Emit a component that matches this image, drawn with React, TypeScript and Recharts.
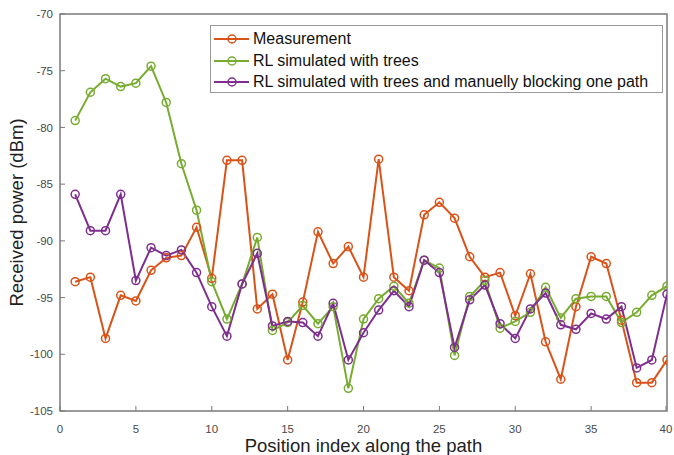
import React from 'react';
import { LineChart, Line, XAxis, YAxis, Legend, ReferenceArea } from 'recharts';

const positions = [1,2,3,4,5,6,7,8,9,10,11,12,13,14,15,16,17,18,19,20,21,22,23,24,25,26,27,28,29,30,31,32,33,34,35,36,37,38,39,40];
const measurement = [-93.6,-93.2,-98.6,-94.8,-95.3,-92.6,-91.5,-91.3,-88.8,-93.3,-82.9,-82.9,-96.0,-94.7,-100.5,-95.4,-89.2,-92.0,-90.5,-93.2,-82.8,-93.2,-94.4,-87.7,-86.6,-88.0,-91.4,-93.2,-92.8,-96.6,-92.9,-98.9,-102.2,-95.8,-91.4,-92.0,-97.0,-102.5,-102.5,-100.5];
const rlTrees = [-79.4,-76.9,-75.7,-76.4,-76.1,-74.6,-77.8,-83.2,-87.3,-93.6,-96.9,-93.8,-89.7,-97.9,-97.2,-95.7,-97.3,-95.8,-103.0,-96.9,-95.1,-94.0,-95.5,-91.7,-92.4,-100.1,-94.9,-93.5,-97.7,-97.1,-96.3,-94.1,-96.8,-95.1,-94.9,-94.9,-97.2,-96.3,-94.8,-94.0];
const rlBlocked = [-85.9,-89.1,-89.1,-85.9,-93.5,-90.6,-91.3,-90.8,-92.8,-95.8,-98.4,-93.8,-91.1,-97.5,-97.1,-97.2,-98.4,-95.5,-100.5,-98.1,-96.1,-94.4,-95.8,-91.7,-92.8,-99.4,-95.2,-93.9,-97.3,-98.6,-96.0,-94.6,-97.4,-97.8,-96.4,-96.9,-95.8,-101.2,-100.5,-94.7];
const xTicks = [0,5,10,15,20,25,30,35,40];
const yTicks = [-105,-100,-95,-90,-85,-80,-75,-70];
const seriesNames = ['Measurement', 'RL simulated with trees', 'RL simulated with trees and manuelly blocking one path'];
const seriesColors = ['#D95319', '#77AC30', '#7E2F8E'];

const data = positions.map((p, i) => ({ x: p, m: measurement[i], t: rlTrees[i], b: rlBlocked[i] }));

const FONT = '"Liberation Sans", Arial, Helvetica, sans-serif';
const AXIS = '#7a7a7a';
const TXT = '#4a4a4a';
const TICK_LEN = 5;

const BottomTick = (p: any) => (
  <g>
    <line x1={p.x} y1={p.y - 14} x2={p.x} y2={p.y - 14 - TICK_LEN} stroke={AXIS} strokeWidth={1} />
    <text x={p.x} y={p.y} dy="0.71em" textAnchor="middle" fill={TXT} fontSize={11.5} fontFamily={FONT}>{p.payload.value}</text>
  </g>
);
const TopTick = (p: any) => (
  <line x1={p.x} y1={p.y} x2={p.x} y2={p.y + TICK_LEN} stroke={AXIS} strokeWidth={1} />
);
const LeftTick = (p: any) => (
  <g>
    <line x1={p.x + 7} y1={p.y} x2={p.x + 7 + TICK_LEN} y2={p.y} stroke={AXIS} strokeWidth={1} />
    <text x={p.x} y={p.y} dy="0.355em" textAnchor="end" fill={TXT} fontSize={11.5} fontFamily={FONT}>{p.payload.value}</text>
  </g>
);
const RightTick = (p: any) => (
  <line x1={p.x} y1={p.y} x2={p.x - TICK_LEN} y2={p.y} stroke={AXIS} strokeWidth={1} />
);

const LegendBox = () => (
  <div style={{ position: 'absolute', left: 210, top: 25, width: 453, height: 68, border: '1.5px solid #9a9a9a', background: '#fff', boxSizing: 'border-box', fontFamily: FONT, fontSize: 16, color: '#111' }}>
    {seriesNames.map((n, i) => (
      <div key={n} style={{ position: 'absolute', left: 2, top: 3 + i * 21.5, height: 20, display: 'flex', alignItems: 'center', whiteSpace: 'nowrap' }}>
        <svg width={37} height={20} style={{ marginRight: 3 }}>
          <line x1={1} y1={10} x2={36} y2={10} stroke={seriesColors[i]} strokeWidth={2} />
          <circle cx={19} cy={10} r={4} stroke={seriesColors[i]} strokeWidth={1.5} fill="none" />
        </svg>
        <span>{n}</span>
      </div>
    ))}
  </div>
);

export default function App() {
  const dot = (c: string) => ({ r: 4, stroke: c, strokeWidth: 1.5, fill: 'none' });
  return (
    <div style={{ position: 'absolute', left: 0, top: 0, width: 674, height: 455, background: '#fff' }}>
      <LineChart width={674} height={455} data={data} margin={{ top: 14, right: 7, left: 0, bottom: 0 }}>
        <XAxis dataKey="x" type="number" domain={[0, 40]} ticks={xTicks} allowDataOverflow
          height={44} tickLine={false} axisLine={false} tickSize={0} tickMargin={14}
          tick={<BottomTick />}
          label={{ value: 'Position index along the path', position: 'insideBottom', offset: 3, fill: '#222', fontSize: 18.5, fontFamily: FONT }} />
        <XAxis xAxisId="top" orientation="top" type="number" domain={[0, 40]} ticks={xTicks} height={0}
          tickLine={false} axisLine={false} tickSize={0} tickMargin={0} tick={<TopTick />} />
        <YAxis type="number" domain={[-105, -70]} ticks={yTicks} allowDataOverflow width={60}
          tickLine={false} axisLine={false} tickSize={0} tickMargin={7}
          tick={<LeftTick />}
          label={{ value: 'Received power (dBm)', angle: -90, position: 'insideLeft', offset: 16, style: { textAnchor: 'middle' }, fill: '#222', fontSize: 18.5, fontFamily: FONT }} />
        <YAxis yAxisId="right" orientation="right" type="number" domain={[-105, -70]} ticks={yTicks} width={0}
          tickLine={false} axisLine={false} tickSize={0} tickMargin={0} tick={<RightTick />} />
        <ReferenceArea x1={0} x2={40} y1={-105} y2={-70} fill="none" fillOpacity={0} stroke={AXIS} strokeWidth={1.5} ifOverflow="visible" />
        <Legend content={() => <LegendBox />} wrapperStyle={{ position: 'absolute', left: 0, top: 0, width: 0, height: 0 }} />
        <Line dataKey="m" stroke={seriesColors[0]} strokeWidth={2} dot={dot(seriesColors[0])} isAnimationActive={false} />
        <Line dataKey="t" stroke={seriesColors[1]} strokeWidth={2} dot={dot(seriesColors[1])} isAnimationActive={false} />
        <Line dataKey="b" stroke={seriesColors[2]} strokeWidth={2} dot={dot(seriesColors[2])} isAnimationActive={false} />
      </LineChart>
    </div>
  );
}
